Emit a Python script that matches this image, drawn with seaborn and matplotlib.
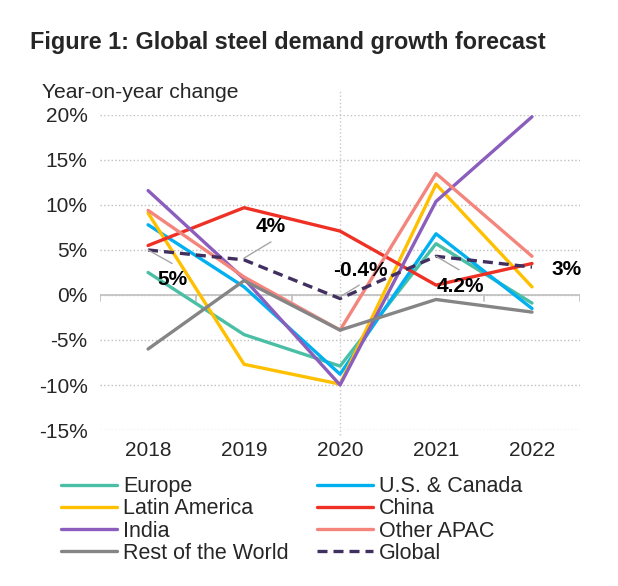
import matplotlib
matplotlib.use("Agg")
import matplotlib.pyplot as plt
import numpy as np
import pandas as pd
import seaborn as sns

years = ["2018", "2019", "2020", "2021", "2022"]
europe = [2.5, -4.4, -7.9, 5.7, -0.9]
us_canada = [7.8, 0.9, -8.8, 6.8, -1.5]
latin_america = [9.1, -7.7, -9.9, 12.3, 0.9]
china = [5.5, 9.7, 7.1, 1.1, 3.5]
india = [11.6, 1.8, -10.0, 10.4, 19.8]
other_apac = [9.4, 2.0, -3.9, 13.5, 4.3]
rest_of_world = [-6.0, 1.6, -3.9, -0.5, -1.9]
global_ = [5.0, 3.9, -0.4, 4.3, 3.1]

series_names = ["Europe", "U.S. & Canada", "Latin America", "China", "India",
                "Other APAC", "Rest of the World", "Global"]
series_values = [europe, us_canada, latin_america, china, india,
                 other_apac, rest_of_world, global_]
colors = ["#4BBFA5", "#00B0F0", "#FFC000", "#EE3124", "#8B5DBD",
          "#F4857D", "#858585", "#41305F"]

labels = ["5%", "4%", "-0.4%", "4.2%", "3%"]

rows = []
for name, vals in zip(series_names, series_values):
    for i, v in enumerate(vals):
        rows.append({"year": i, "value": v, "region": name})
df = pd.DataFrame(rows)

sns.set_style("white")
plt.rcParams["font.family"] = ["Liberation Sans", "DejaVu Sans"]

fig = plt.figure(figsize=(6.18, 5.86), dpi=100)
ax = fig.add_axes([0.162, 0.2662, 0.7765, 0.5376])

dashes = {n: "" for n in series_names}
dashes["Global"] = (3, 1.8)
sns.lineplot(data=df, x="year", y="value", hue="region", style="region",
             hue_order=series_names, style_order=series_names,
             palette=dict(zip(series_names, colors)), dashes=dashes,
             linewidth=2.4, ax=ax, legend=True)

ax.set_xlim(-0.5, 4.5)
ax.set_ylim(-15, 20)
ax.set_yticks(np.arange(-15, 21, 5))
ax.set_yticklabels([f"{t}%" for t in range(-15, 21, 5)])
ax.set_xticks(range(len(years)))
ax.set_xticklabels(years)
ax.tick_params(length=0, labelsize=15, pad=8)
ax.tick_params(axis="y", pad=9)
ax.set_xlabel("")
ax.set_ylabel("")
for s in ax.spines.values():
    s.set_visible(False)
ax.yaxis.grid(True, linestyle=":", color="#BFBFBF", linewidth=1)
ax.set_axisbelow(True)

ax.axhline(0, color="#BFBFBF", linewidth=1.2, zorder=1)
for b in np.arange(-0.5, 5, 1):
    ax.plot([b, b], [0, -0.7], color="#BFBFBF", linewidth=1.2, zorder=1)
ax.plot([2, 2], [-15.6, 22.7], color="#C8C8C8", linestyle=":", linewidth=1,
        clip_on=False, zorder=1)

# annotations for Global line
ann_text = [(0.25, 1.7), (1.28, 7.6), (2.21, 2.7), (3.25, 0.9), (4.36, 2.8)]
ann_lines = [((0.0, 5.0), (0.25, 3.5)), ((1.0, 4.1), (1.28, 5.9)),
             ((2.0, -0.2), (2.2, 1.1)), ((3.0, 4.3), (3.24, 2.8)), None]
for lab, (tx, ty), ln in zip(labels, ann_text, ann_lines):
    if ln is not None:
        ax.plot([ln[0][0], ln[1][0]], [ln[0][1], ln[1][1]], color="#A6A6A6",
                linewidth=1, zorder=5, clip_on=False)
    ax.text(tx, ty, lab, ha="center", va="center", fontsize=15,
            fontweight="bold", color="black", zorder=6, clip_on=False)

handles, hlabels = ax.get_legend_handles_labels()
hmap = dict(zip(hlabels, handles))
order = ["Europe", "Latin America", "India", "Rest of the World",
         "U.S. & Canada", "China", "Other APAC", "Global"]
ax.legend([hmap[o] for o in order], order, ncol=2, loc="upper left",
          bbox_to_anchor=(-0.1, -0.12), frameon=False, fontsize=15.5,
          handlelength=2.6, handletextpad=0.3, columnspacing=1.3,
          labelspacing=0.05, borderaxespad=0)

fig.text(0.048, 0.928, "Figure 1: Global steel demand growth forecast",
         fontsize=16.8, fontweight="bold", ha="left", va="center")
fig.text(0.068, 0.843, "Year-on-year change", fontsize=15.2, ha="left",
         va="center")

fig.savefig("out.png", dpi=100)
